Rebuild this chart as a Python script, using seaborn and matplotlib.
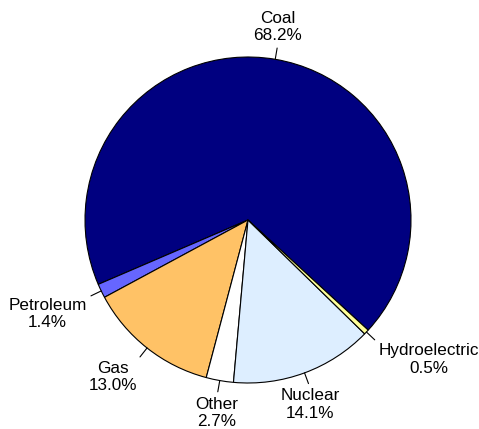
import numpy as np
import matplotlib
matplotlib.use("Agg")
import matplotlib.pyplot as plt
import seaborn as sns

# data
sources = ['Coal', 'Petroleum', 'Gas', 'Other', 'Nuclear', 'Hydroelectric']
shares = [68.2, 1.4, 13.0, 2.7, 14.1, 0.5]
colors = ['#000080', '#6666FF', '#FFC266', '#FFFFFF', '#DDEEFF', '#FFFF99']

sns.set_theme(style='white')
plt.rcParams['font.family'] = ['Liberation Sans', 'DejaVu Sans']

fig = plt.figure(figsize=(4.79, 4.29), dpi=100)
ax = fig.add_axes([0, 0, 1, 1])

wedges, _ = ax.pie(shares, colors=colors, startangle=-42.5, counterclock=True,
                   wedgeprops=dict(edgecolor='black', linewidth=0.8))
ax.set_xlim(-248 / 163, (479 - 248) / 163)
ax.set_ylim(-(429 - 220) / 163, 220 / 163)
ax.set_aspect('auto')
ax.axis('off')

# labels with short leader lines
for w, name, val in zip(wedges, sources, shares):
    ang = np.deg2rad((w.theta1 + w.theta2) / 2)
    c, s = np.cos(ang), np.sin(ang)
    ax.plot([c * 1.0, c * 1.07], [s * 1.0, s * 1.07], color='black', lw=0.8)
    if abs(c) < 0.5:
        ha = 'center'
    elif c > 0:
        ha = 'left'
    else:
        ha = 'right'
    va = 'bottom' if s > 0 else 'top'
    ax.text(c * 1.1, s * 1.1, f'{name}\n{val:.1f}%', ha=ha, va=va,
            multialignment='center', fontsize=12.3, color='black', linespacing=1.2)

fig.savefig('out.png', dpi=100)
